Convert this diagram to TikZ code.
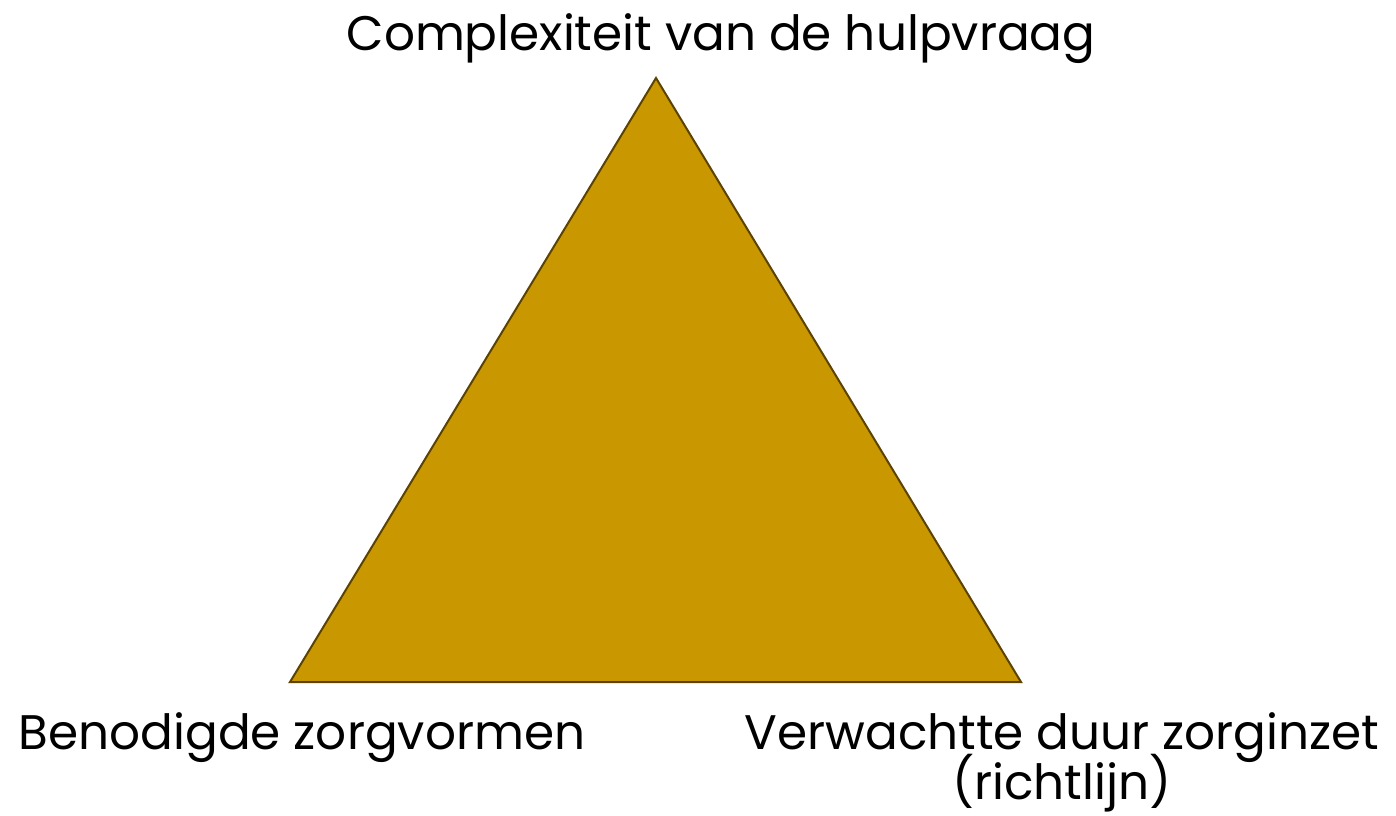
\documentclass[tikz,border=0pt]{standalone}
\usepackage{fontspec}
\setmainfont{Poppins}
\definecolor{trifill}{HTML}{C99700}
\definecolor{triline}{HTML}{5C4300}
\begin{document}
\begin{tikzpicture}[x=1pt,y=-1pt,
  lbl/.style={inner sep=0pt,anchor=base,font=\fontsize{48.5}{58}\selectfont,text=black}]
\useasboundingbox (0,0) rectangle (1396,815);
\coordinate (top) at (656,78);
\coordinate (bl) at (290,682);
\coordinate (br) at (1021,682);
\filldraw[fill=trifill,draw=triline,line width=2pt,line join=miter] (top) -- (bl) -- (br) -- cycle;
\node[lbl] (t) at (721,50) {Complexiteit van de hulpvraag};
\node[lbl] (l) at (302,749) {Benodigde zorgvormen};
\node[lbl] (r1) at (1062,749) {Verwachtte duur zorginzet};
\node[lbl] (r2) at (1062,799) {(richtlijn)};
\end{tikzpicture}
\end{document}
